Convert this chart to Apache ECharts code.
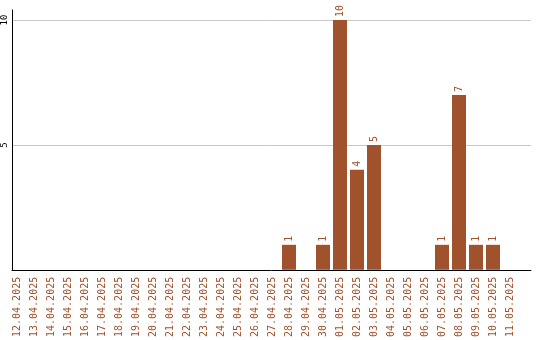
<!DOCTYPE html>
<html><head><meta charset="utf-8">
<script src="https://cdn.jsdelivr.net/npm/echarts@6/dist/echarts.min.js"></script>
<style>html,body{margin:0;padding:0;background:#fff}#c{width:540px;height:340px}</style>
</head><body><div id="c"></div>
<script>
const categories = ["12.04.2025","13.04.2025","14.04.2025","15.04.2025","16.04.2025","17.04.2025","18.04.2025","19.04.2025","20.04.2025","21.04.2025","22.04.2025","23.04.2025","24.04.2025","25.04.2025","26.04.2025","27.04.2025","28.04.2025","29.04.2025","30.04.2025","01.05.2025","02.05.2025","03.05.2025","04.05.2025","05.05.2025","06.05.2025","07.05.2025","08.05.2025","09.05.2025","10.05.2025","11.05.2025"];
const values = [0,0,0,0,0,0,0,0,0,0,0,0,0,0,0,0,1,0,1,10,4,5,0,0,0,1,7,1,1,0];
const yTicks = [0,5,10];

const brown = '#a0522d';
const mono = '"DejaVu Sans Mono", "Liberation Mono", monospace';
const chart = echarts.init(document.getElementById('c'));
chart.setOption({
  animation: false,
  grid: [
    {left: 10, right: 9, top: 10, bottom: 70},
    {left: 8.5, right: 21.5, top: 10, bottom: 70}
  ],
  xAxis: [
    {gridIndex: 0, type: 'category', data: categories, axisLine: {lineStyle: {color: '#000', width: 1}}, axisTick: {show: false}, axisLabel: {show: false}, splitLine: {show: false}},
    {gridIndex: 1, type: 'category', data: categories, axisLine: {show: false}, axisTick: {show: false},
     axisLabel: {rotate: 90, interval: 0, color: brown, fontFamily: mono, fontSize: 10, margin: 7}}
  ],
  yAxis: [
    {gridIndex: 0, type: 'value', min: 0, max: 10.4, interval: 5,
     axisLine: {show: true, lineStyle: {color: '#000', width: 1}}, axisTick: {show: false},
     axisLabel: {rotate: 90, color: '#000', fontFamily: mono, fontSize: 9, margin: 3, showMaxLabel: false,
       formatter: v => (yTicks.indexOf(v) > 0 ? String(v) : '')},
     splitLine: {show: true, showMaxLine: false, lineStyle: {color: '#c8c8c8', width: 1}}},
    {gridIndex: 1, type: 'value', min: 0, max: 10.4, interval: 5, show: false, splitLine: {show: false}}
  ],
  series: [{
    type: 'bar', xAxisIndex: 1, yAxisIndex: 1, data: values, barWidth: 14,
    itemStyle: {color: brown},
    label: {show: true, position: 'top', rotate: 90, align: 'left', verticalAlign: 'middle', distance: 3,
      color: brown, fontFamily: mono, fontSize: 10, formatter: p => (p.value ? String(p.value) : '')}
  }]
});
</script></body></html>
